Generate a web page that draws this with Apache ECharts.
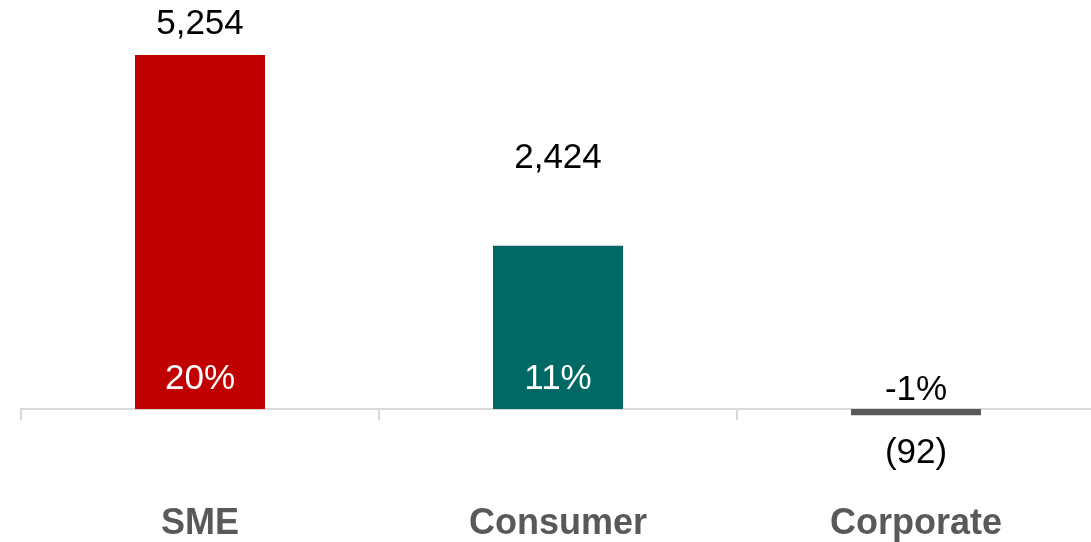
<!DOCTYPE html>
<html>
<head>
<meta charset="utf-8">
<title>Growth by segment</title>
<script src="https://cdn.jsdelivr.net/npm/echarts@6/dist/echarts.min.js"></script>
<style>
  html, body { margin: 0; padding: 0; background: #ffffff; }
  #chart { width: 1091px; height: 542px; }
</style>
</head>
<body>
<div id="chart"></div>
<script>
// Segment figures
const categories = ['SME', 'Consumer', 'Corporate'];
const amounts = [5254, 2424, -92];
const growthPct = [20, 11, -1];

// Presentation settings (kept apart from the figures)
const barColors = ['#c00000', '#006966', '#595959'];
const amountLabelGap = [13, 70, 21];
const growthLabelGap = [12, 12, 1];

const fontFamily = '"Liberation Sans", Arial, sans-serif';

function formatAmount(v) {
  const s = Math.abs(v).toLocaleString('en-US');
  return v < 0 ? '(' + s + ')' : s;
}

const amountData = amounts.map(function (v, i) {
  return {
    value: v,
    itemStyle: { color: barColors[i] },
    label: {
      position: v < 0 ? 'bottom' : 'top',
      distance: amountLabelGap[i]
    }
  };
});

const growthData = amounts.map(function (v, i) {
  const negative = v < 0;
  return {
    value: v,
    label: {
      position: negative ? 'top' : 'insideBottom',
      distance: growthLabelGap[i],
      color: negative ? '#000000' : '#ffffff',
      formatter: growthPct[i] + '%'
    }
  };
});

const chart = echarts.init(document.getElementById('chart'), null, { renderer: 'canvas' });

chart.setOption({
  animation: false,
  backgroundColor: '#ffffff',
  grid: {
    left: 21,
    width: 1074,
    top: 4.7,
    bottom: 65.6,
    containLabel: false,
    outerBoundsMode: 'none'
  },
  xAxis: {
    type: 'category',
    data: categories,
    axisLine: { onZero: true, lineStyle: { color: '#d9d9d9', width: 2 } },
    axisTick: { show: true, length: 11, lineStyle: { color: '#d9d9d9', width: 2 } },
    axisLabel: {
      margin: 30,
      color: '#595959',
      fontFamily: fontFamily,
      fontSize: 36,
      fontWeight: 'bold'
    }
  },
  yAxis: {
    type: 'value',
    min: -1000,
    max: 6000,
    show: false,
    splitLine: { show: false }
  },
  series: [
    {
      name: 'Amount',
      type: 'bar',
      barWidth: 130,
      data: amountData,
      label: {
        show: true,
        color: '#000000',
        fontFamily: fontFamily,
        fontSize: 35,
        formatter: function (p) { return formatAmount(p.value); }
      },
      z: 2
    },
    {
      name: 'Growth',
      type: 'bar',
      barWidth: 130,
      barGap: '-100%',
      data: growthData,
      itemStyle: { color: 'rgba(0,0,0,0)' },
      label: {
        show: true,
        fontFamily: fontFamily,
        fontSize: 35
      },
      z: 3,
      silent: true
    }
  ]
});
</script>
</body>
</html>
